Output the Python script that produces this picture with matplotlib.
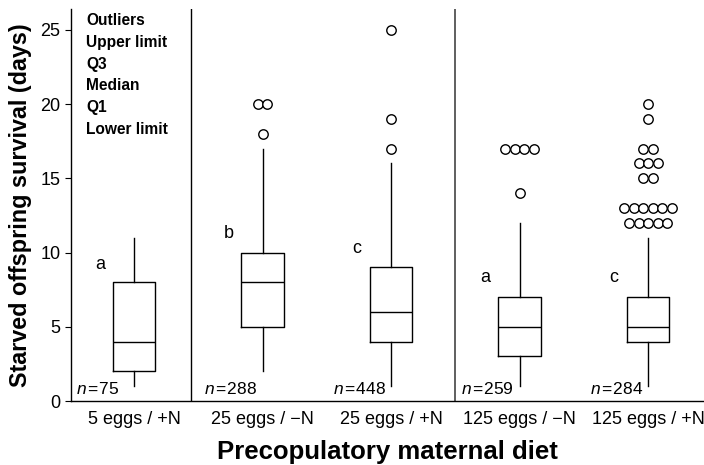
import numpy as np
import matplotlib
matplotlib.use('Agg')
import matplotlib.pyplot as plt

plt.rcParams['font.family'] = ['Liberation Sans', 'DejaVu Sans']
plt.rcParams['mathtext.fontset'] = 'custom'
plt.rcParams['mathtext.it'] = 'Liberation Sans:italic'
plt.rcParams['mathtext.rm'] = 'Liberation Sans'

# diet groups and their box statistics (days)
groups = ['5 eggs / +N', '25 eggs / \u2212N', '25 eggs / +N', '125 eggs / \u2212N', '125 eggs / +N']
lower = [1, 2, 1, 1, 1]
q1 = [2, 5, 4, 3, 4]
median = [4, 8, 6, 5, 5]
q3 = [8, 10, 9, 7, 7]
upper = [11, 17, 16, 12, 11]
outliers = [
    [],
    [18, 20, 20],
    [17, 19, 25],
    [14, 17, 17, 17, 17],
    [12] * 5 + [13] * 6 + [15] * 2 + [16] * 3 + [17] * 2 + [19, 20],
]
n_obs = [75, 288, 448, 259, 284]
letters = ['a', 'b', 'c', 'a', 'c']
letter_y = [9.2, 11.3, 10.3, 8.3, 8.3]
legend_items = ['Outliers', 'Upper limit', 'Q3', 'Median', 'Q1', 'Lower limit']

fig = plt.figure(figsize=(7.04, 4.65), dpi=100)
ax = fig.add_axes([0.1009, 0.1376, 0.8991, 0.843])

positions = np.arange(1, len(groups) + 1)
stats = []
for i in range(len(groups)):
    stats.append({'whislo': lower[i], 'q1': q1[i], 'med': median[i],
                  'q3': q3[i], 'whishi': upper[i], 'fliers': []})

line_kw = dict(color='black', linewidth=1.0)
ax.bxp(stats, positions=positions, widths=0.33, showcaps=False, showfliers=False,
       boxprops=line_kw, whiskerprops=line_kw, medianprops=line_kw)

# outliers, ties spread side by side
step = 0.074
for pos, vals in zip(positions, outliers):
    vals = np.array(vals)
    for v in np.unique(vals):
        k = np.sum(vals == v)
        xs = pos + (np.arange(k) - (k - 1) / 2) * step
        ax.plot(xs, [v] * k, 'o', mfc='white', mec='black', ms=6.8, mew=1.0, ls='none')

for pos, n in zip(positions, n_obs):
    ax.text(pos - 0.455, 0.3, '$n$\u200a=\u200a%d' % n, fontsize=12.5, ha='left', va='bottom')

for pos, lab, ly in zip(positions, letters, letter_y):
    ax.text(pos - 0.265, ly, lab, fontsize=13, ha='center', va='center')

for j, item in enumerate(legend_items):
    ax.text(0.627, 25.6 - j * 1.46, item, fontsize=11.2, fontweight='bold',
            ha='left', va='center')

ax.axvline(1.443, color='black', linewidth=1.0)
ax.axvline(3.5, color='#444444', linewidth=1.2)

ax.set_xlim(0.51, 5.435)
ax.set_ylim(0, 26.4)
ax.set_yticks([0, 5, 10, 15, 20, 25])
ax.set_xticks(positions)
ax.set_xticklabels(groups)
ax.tick_params(axis='x', length=0, labelsize=13, pad=7)
ax.tick_params(axis='y', length=4, labelsize=13, direction='out')
for s in ['top', 'right']:
    ax.spines[s].set_visible(False)
for s in ['left', 'bottom']:
    ax.spines[s].set_linewidth(1.0)

ax.set_xlabel('Precopulatory maternal diet', fontsize=18.5, fontweight='bold', labelpad=9)
ax.set_ylabel('Starved offspring survival (days)', fontsize=16.8, fontweight='bold', labelpad=6)

fig.savefig('out.png', dpi=100)
